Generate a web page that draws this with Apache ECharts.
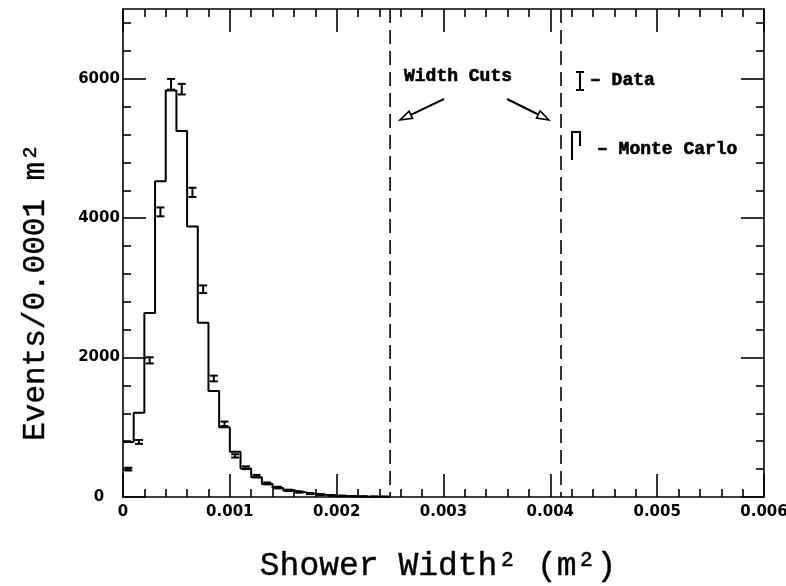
<!DOCTYPE html>
<html><head><meta charset="utf-8">
<script src="https://cdn.jsdelivr.net/npm/echarts@6/dist/echarts.min.js"></script>
<style>html,body{margin:0;padding:0;background:#fff}#c{width:786px;height:586px}</style>
</head><body><div id="c"></div>
<script>
// ---- data ----
const binWidth = 0.0001;
const binStarts = [0.0000,0.0001,0.0002,0.0003,0.0004,0.0005,0.0006,0.0007,0.0008,0.0009,
                   0.0010,0.0011,0.0012,0.0013,0.0014,0.0015,0.0016,0.0017,0.0018,0.0019,
                   0.0020,0.0021,0.0022,0.0023,0.0024];
const mcValues   = [790,1210,2640,4530,5830,5250,3880,2500,1520,1000,
                    650,410,285,185,130,92,70,45,32,22,
                    15,10,7,5,3];
const dataValues = [400,790,1960,4090,5920,5850,4370,2980,1700,1050,
                    590,420,300,195,135,95,70,48,33,22,
                    15,10,7,5,3];
const dataErrors = [20,28,44,64,77,76,66,55,41,32,
                    24,20,17,14,12,10,8,7,6,5,
                    4,3,3,2,2];
const widthCuts = [0.0025, 0.0041];
const xMajorTicks = [0,0.001,0.002,0.003,0.004,0.005,0.006];
const yMajorTicks = [0,2000,4000,6000];
const xMinorStep = 0.0002, yMinorStep = 400;
const xTitle = 'Shower Width² (m²)';
const yTitle = 'Events/0.0001 m²';

// ---- derived ----
function minorList(major, step, max){
  const out=[]; const n=Math.round(max/step);
  for(let i=0;i<=n;i++){const v=+(i*step).toFixed(6); if(!major.some(m=>Math.abs(m-v)<step/100)) out.push(v);}
  return out;
}
const xMinorTicks = minorList(xMajorTicks, xMinorStep, 0.006);
const yMinorTicks = minorList(yMajorTicks, yMinorStep, 7000);

const stepData = binStarts.map((x,i)=>[x, mcValues[i]]);
stepData.push([+(binStarts[binStarts.length-1]+binWidth).toFixed(6), mcValues[mcValues.length-1]]);
const errData = binStarts.map((x,i)=>[x+binWidth/2, dataValues[i], dataErrors[i]]);

const INK = '#000';
const labelFont = {fontFamily:'DejaVu Sans', fontWeight:'bold', fontSize:15, color:INK};

function xAxisDef(pos, ticks, len, showLine, showLabel){
  return {type:'value', min:0, max:0.006, position:pos, offset:0,
    axisLine:{show:showLine, onZero:false, lineStyle:{color:INK, width:1.6}},
    axisTick:{show:true, inside:true, length:len, customValues:ticks, lineStyle:{color:INK, width:1.6}},
    axisLabel:{show:showLabel, customValues:ticks, margin:8, ...labelFont,
      formatter:v=>v===0?'0':v.toFixed(3)},
    splitLine:{show:false}};
}
function yAxisDef(pos, ticks, len, showLine, showLabel){
  return {type:'value', min:0, max:7000, position:pos, offset:0,
    axisLine:{show:showLine, onZero:false, lineStyle:{color:INK, width:1.6}},
    axisTick:{show:true, inside:true, length:len, customValues:ticks, lineStyle:{color:INK, width:1.6}},
    axisLabel:{show:showLabel, customValues:ticks, margin:24, align:'center', ...labelFont,
      formatter:v=>String(v)},
    splitLine:{show:false}};
}

const chart = echarts.init(document.getElementById('c'), null, {renderer:'canvas'});
const monoBold = 'bold 18px "Liberation Mono"';
const titleFontY = '31px "Liberation Mono"';
const titleFontX = '33px "Liberation Mono"';
const boldText = {fill:INK, stroke:INK, lineWidth:0.6};

chart.setOption({
  backgroundColor:'#fff',
  animation:false,
  grid:{left:123, right:22, top:9, bottom:89, outerBoundsMode:'none', containLabel:false},
  xAxis:[
    xAxisDef('bottom', xMajorTicks, 23, true, true),
    xAxisDef('bottom', xMinorTicks, 8, false, false),
    xAxisDef('top', xMajorTicks, 23, true, false),
    xAxisDef('top', xMinorTicks, 8, false, false)
  ],
  yAxis:[
    yAxisDef('left', yMajorTicks, 23, true, true),
    yAxisDef('left', yMinorTicks, 8, false, false),
    yAxisDef('right', yMajorTicks, 23, true, false),
    yAxisDef('right', yMinorTicks, 8, false, false)
  ],
  series:[
    {type:'line', name:'Monte Carlo', xAxisIndex:0, yAxisIndex:0, step:'end', data:stepData,
     symbol:'none', lineStyle:{color:INK, width:2}, z:3},
    {type:'custom', name:'Data', xAxisIndex:0, yAxisIndex:0, data:errData, z:4,
     renderItem:function(params, api){
       const x=api.value(0), v=api.value(1), e=api.value(2);
       const t=api.coord([x, v+e]), b=api.coord([x, v-e]);
       const hw=4, st={stroke:INK, lineWidth:2};
       return {type:'group', children:[
         {type:'line', shape:{x1:t[0],y1:t[1],x2:b[0],y2:b[1]}, style:st},
         {type:'line', shape:{x1:t[0]-hw,y1:t[1],x2:t[0]+hw,y2:t[1]}, style:st},
         {type:'line', shape:{x1:b[0]-hw,y1:b[1],x2:b[0]+hw,y2:b[1]}, style:st}
       ]};
     }},
    {type:'custom', name:'Width cuts', xAxisIndex:0, yAxisIndex:0, z:2,
     data:widthCuts.map(v=>[v, 0]), encode:{x:0, y:1},
     renderItem:function(params, api){
       const cs=params.coordSys;
       const px=api.coord([api.value(0), 0])[0];
       return {type:'line', shape:{x1:px, y1:cs.y, x2:px, y2:cs.y+cs.height},
         style:{stroke:INK, lineWidth:1.6, lineDash:[14,7]}};
     }}
  ],
  graphic:[
    {type:'text', x:36, y:292, rotation:Math.PI/2,
     style:{text:yTitle, font:titleFontY, fill:INK, stroke:INK, lineWidth:0.4, align:'center', verticalAlign:'middle'}},
    {type:'text', x:438, y:566,
     style:{text:xTitle, font:titleFontX, fill:INK, stroke:INK, lineWidth:0.4, align:'center', verticalAlign:'middle'}},
    {type:'text', x:404, y:76, style:{text:'Width Cuts', font:monoBold, ...boldText, align:'left', verticalAlign:'middle'}},
    // arrows
    {type:'polyline', shape:{points:[[444,99],[410.8,114.8]]}, style:{stroke:INK, lineWidth:2, fill:null}},
    {type:'polygon', shape:{points:[[400,120],[412.5,118.4],[409.1,111.2]]}, style:{stroke:INK, lineWidth:1.6, fill:'#fff'}},
    {type:'polyline', shape:{points:[[507,99],[538.3,114.5]]}, style:{stroke:INK, lineWidth:2, fill:null}},
    {type:'polygon', shape:{points:[[549,120],[536.5,118.1],[540.1,110.9]]}, style:{stroke:INK, lineWidth:1.6, fill:'#fff'}},
    // legend: data symbol
    {type:'line', shape:{x1:580,y1:72,x2:580,y2:90}, style:{stroke:INK, lineWidth:2}},
    {type:'line', shape:{x1:576,y1:72,x2:584,y2:72}, style:{stroke:INK, lineWidth:2}},
    {type:'line', shape:{x1:576,y1:90,x2:584,y2:90}, style:{stroke:INK, lineWidth:2}},
    {type:'text', x:590, y:80, style:{text:'– Data', font:monoBold, ...boldText, align:'left', verticalAlign:'middle'}},
    // legend: MC symbol
    {type:'polyline', shape:{points:[[572,160],[572,132],[580,132],[580,146]]}, style:{stroke:INK, lineWidth:2, fill:null}},
    {type:'text', x:597, y:149, style:{text:'– Monte Carlo', font:monoBold, ...boldText, align:'left', verticalAlign:'middle'}}
  ]
});
</script></body></html>
